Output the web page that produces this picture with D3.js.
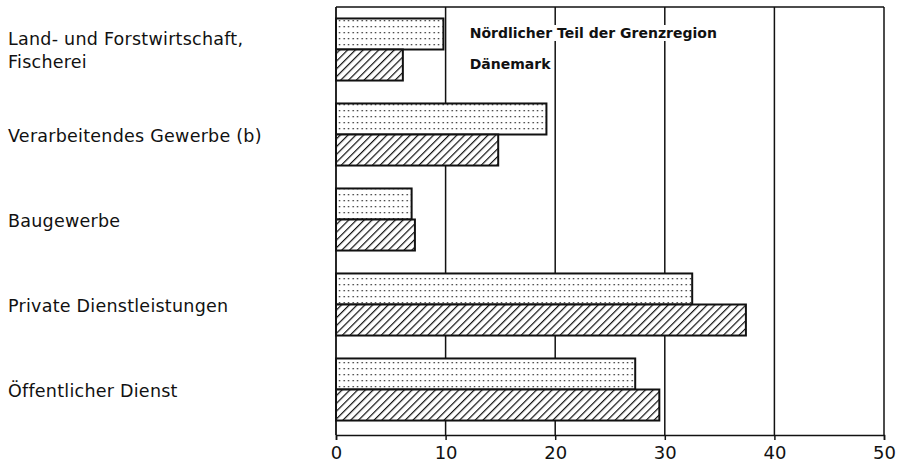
<!DOCTYPE html>
<html>
<head>
<meta charset="utf-8">
<script src="https://cdn.jsdelivr.net/npm/d3@7"></script>
<style>
  body { margin: 0; background: #fff; }
  svg { display: block; }
  text { font-family: "DejaVu Sans", sans-serif; fill: #111; }
</style>
</head>
<body>
<svg id="chart" width="906" height="466"></svg>
<script>
// categories (top to bottom), label lines
const categories = [
  ['Land- und Forstwirtschaft,', 'Fischerei'],
  ['Verarbeitendes Gewerbe (b)'],
  ['Baugewerbe'],
  ['Private Dienstleistungen'],
  ['Öffentlicher Dienst']
];
const seriesNames = ['Nördlicher Teil der Grenzregion', 'Dänemark'];
const northValues = [9.8, 19.2, 6.9, 32.5, 27.3];
const danishValues = [6.1, 14.8, 7.2, 37.4, 29.5];
const tickValues = [0, 10, 20, 30, 40, 50];

const svg = d3.select('#chart');
const keys = categories.map((c, i) => 'c' + i);

const x = d3.scaleLinear().domain([0, 50]).range([336, 884]);
const y = d3.scaleBand().domain(keys).range([7, 432])
  .paddingInner(0.27).paddingOuter(0.135);
const ySub = d3.scaleBand().domain([0, 1]).range([0, y.bandwidth()]);

const plotTop = 7, axisY = 435;

// patterns
const defs = svg.append('defs');
const dots = defs.append('pattern')
  .attr('id', 'dots').attr('patternUnits', 'userSpaceOnUse')
  .attr('width', 4.5).attr('height', 6);
dots.append('rect').attr('width', 4.5).attr('height', 6).attr('fill', '#fff');
dots.append('rect').attr('x', 1.5).attr('y', 2).attr('width', 1.3).attr('height', 1.3).attr('fill', '#222');

const hatch = defs.append('pattern')
  .attr('id', 'hatch').attr('patternUnits', 'userSpaceOnUse')
  .attr('width', 5.5).attr('height', 5.5)
  .attr('patternTransform', 'rotate(45)');
hatch.append('rect').attr('width', 5.5).attr('height', 5.5).attr('fill', '#fff');
hatch.append('line').attr('x1', 0).attr('y1', 0).attr('x2', 0).attr('y2', 5.5)
  .attr('stroke', '#111').attr('stroke-width', 2.4);

// grid + frame
svg.append('g').selectAll('line')
  .data(tickValues.slice(1, -1))
  .join('line')
  .attr('x1', d => x(d)).attr('x2', d => x(d))
  .attr('y1', plotTop).attr('y2', axisY)
  .attr('stroke', '#111').attr('stroke-width', 1.5);

svg.append('line')
  .attr('x1', x(0)).attr('x2', x(50)).attr('y1', plotTop).attr('y2', plotTop)
  .attr('stroke', '#111').attr('stroke-width', 1.5);
svg.append('line')
  .attr('x1', x(0)).attr('x2', x(0)).attr('y1', plotTop).attr('y2', axisY)
  .attr('stroke', '#111').attr('stroke-width', 1.8);
svg.append('line')
  .attr('x1', x(50)).attr('x2', x(50)).attr('y1', plotTop).attr('y2', axisY)
  .attr('stroke', '#111').attr('stroke-width', 1.5);

// bars
const fills = ['url(#dots)', 'url(#hatch)'];
[northValues, danishValues].forEach((vals, s) => {
  svg.append('g').selectAll('rect')
    .data(vals)
    .join('rect')
    .attr('x', x(0))
    .attr('y', (d, i) => y(keys[i]) + ySub(s))
    .attr('width', d => x(d) - x(0))
    .attr('height', ySub.bandwidth())
    .attr('fill', fills[s])
    .attr('stroke', '#111')
    .attr('stroke-width', 2);
});

// series labels next to the first group
const lg = svg.append('g');
seriesNames.forEach((name, s) => {
  const cy = y(keys[0]) + ySub(s) + ySub.bandwidth() / 2;
  const t = lg.append('text')
    .attr('x', x(12.2)).attr('y', cy)
    .attr('dominant-baseline', 'middle')
    .style('font-size', '14px')
    .style('font-weight', 'bold')
    .text(name);
  const bb = t.node().getBBox();
  lg.insert('rect', 'text')
    .attr('x', bb.x - 2).attr('y', bb.y).attr('width', bb.width + 4).attr('height', bb.height)
    .attr('fill', '#fff');
});

// category labels
const catG = svg.append('g');
categories.forEach((lines, i) => {
  const cy = y(keys[i]) + y.bandwidth() / 2;
  const t = catG.append('text')
    .attr('x', 8)
    .attr('y', cy + 7 - (lines.length - 1) * 11.5)
    .style('font-size', '17.5px')
    .style('letter-spacing', '0.25px');
  lines.forEach((ln, j) => {
    t.append('tspan').attr('x', 8).attr('dy', j === 0 ? 0 : 23).text(ln);
  });
});

// x axis
const axis = svg.append('g')
  .attr('transform', `translate(0,${axisY})`)
  .call(d3.axisBottom(x).tickValues(tickValues).tickSize(5).tickPadding(6).tickFormat(d3.format('d')));
axis.select('.domain').attr('stroke', '#111').attr('stroke-width', 1.5);
axis.selectAll('.tick line').attr('stroke', '#111').attr('stroke-width', 1.5);
axis.selectAll('.tick text')
  .style('font-family', '"DejaVu Sans", sans-serif')
  .style('font-size', '18px')
  .attr('fill', '#111');
</script>
</body>
</html>
